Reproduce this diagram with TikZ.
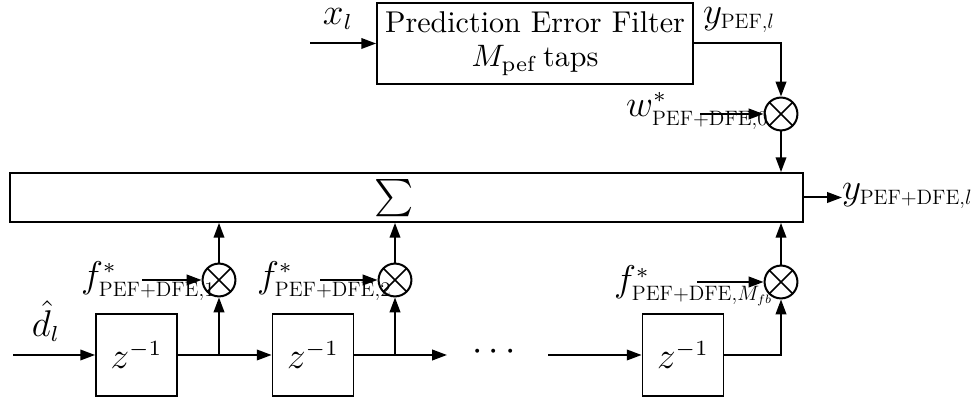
\documentclass[tikz,border=0pt]{standalone}
\usepackage{amsmath}
\usepackage{graphicx}
\usetikzlibrary{arrows.meta,calc}
\DeclareMathSizes{12.5}{12.5}{7}{5}
\DeclareMathSizes{12}{12}{7}{5}
\newcommand{\sbx}[1]{\scalebox{0.56}{$\textstyle #1$}}
\begin{document}
\begin{tikzpicture}[x=0.3226pt,y=-0.3226pt,
  line width=0.65pt,
  arr/.style={-{Triangle[length=4.8pt,width=3.4pt]}},
  blk/.style={draw,inner sep=0pt,line width=0.55pt},
  mult/.style={draw,circle,minimum size=10.6pt,inner sep=0pt,
    path picture={\draw[line width=0.55pt] (path picture bounding box.north west)--(path picture bounding box.south east)
      (path picture bounding box.north east)--(path picture bounding box.south west);}},
  lbl/.style={inner sep=0pt,font=\fontsize{12.5}{14}\selectfont}]
\useasboundingbox (0,0) rectangle (974,404);
% blocks
\node[blk,minimum width=101.94pt,minimum height=26.13pt,align=center,
  font=\fontsize{9.7}{11}\selectfont] (pef) at (535,43.5)
  {Prediction Error Filter\\ $M_{\mathrm{pef}}$\,taps};
\node[blk,minimum width=255.82pt,minimum height=15.81pt] (sum) at (406.5,197.5) {};
\node[inner sep=0pt,font=\fontsize{12}{14}\selectfont] (sigma) at (394,198) {$\sum$};
\node[blk,minimum width=26.13pt,minimum height=26.45pt,font=\fontsize{12.5}{14}\selectfont] (d1) at (136.5,355) {$z^{-1}$};
\node[blk,minimum width=26.13pt,minimum height=26.45pt,font=\fontsize{12.5}{14}\selectfont] (d2) at (313,355) {$z^{-1}$};
\node[blk,minimum width=26.13pt,minimum height=26.45pt,font=\fontsize{12.5}{14}\selectfont] (d3) at (683,355) {$z^{-1}$};
% multipliers
\node[mult] (m0) at (781,114) {};
\node[mult] (m1) at (219,280) {};
\node[mult] (m2) at (395,280) {};
\node[mult] (m3) at (781,282) {};
% free ends
\coordinate (xin) at (310,43.5);
\coordinate (win) at (700,114);
\coordinate (f1in) at (142,280);
\coordinate (f2in) at (320,280);
\coordinate (f3in) at (697,282);
\coordinate (din) at (13,355);
\coordinate (yout) at (842,197.5);
\coordinate (dend) at (447,355);
\coordinate (dstart) at (548,355);
% labels
\node[lbl] (xl) at (338,19) {$x_l$};
\node[lbl,anchor=west] (ypef) at (702,20) {$y_{\sbx{\mathrm{PEF}{,}l}}$};
\node[lbl,anchor=west] (wl) at (625,111) {$w^*_{\sbx{\mathrm{PEF{+}DFE}{,}0}}$};
\node[lbl,anchor=west] (f1l) at (80,281) {$f^*_{\sbx{\mathrm{PEF{+}DFE}{,}1}}$};
\node[lbl,anchor=west] (f2l) at (256,281) {$f^*_{\sbx{\mathrm{PEF{+}DFE}{,}2}}$};
\node[lbl,anchor=west] (f3l) at (613,286) {$f^*_{\sbx{\mathrm{PEF{+}DFE}{,}M_{fb}}}$};
\node[lbl,anchor=west] (youtl) at (841,196) {$y_{\sbx{\mathrm{PEF{+}DFE}{,}l}}$};
\node[lbl] (dl) at (46,321) {$\hat{d}_l$};
\node[lbl] (dots) at (497,352) {$\cdots$};
% connectors
\draw[arr] (xin) -- (pef.west);
\draw[arr] (pef.east) -| (m0.north);
\draw[arr] (win) -- (m0.west);
\draw[arr] (m0.south) -- (sum.north -| m0);
\draw[arr] (sum.east) -- (yout);
\draw[arr] (din) -- (d1.west);
\draw[arr] (d1.east) -- (d2.west);
\draw[arr] (d1.east -| m1) -- (m1.south);
\draw[arr] (f1in) -- (m1.west);
\draw[arr] (m1.north) -- (sum.south -| m1);
\draw[arr] (d2.east) -- (dend);
\draw[arr] (d2.east -| m2) -- (m2.south);
\draw[arr] (f2in) -- (m2.west);
\draw[arr] (m2.north) -- (sum.south -| m2);
\draw[arr] (dstart) -- (d3.west);
\draw[arr] (d3.east) -| (m3.south);
\draw[arr] (f3in) -- (m3.west);
\draw[arr] (m3.north) -- (sum.south -| m3);
\end{tikzpicture}
\end{document}
